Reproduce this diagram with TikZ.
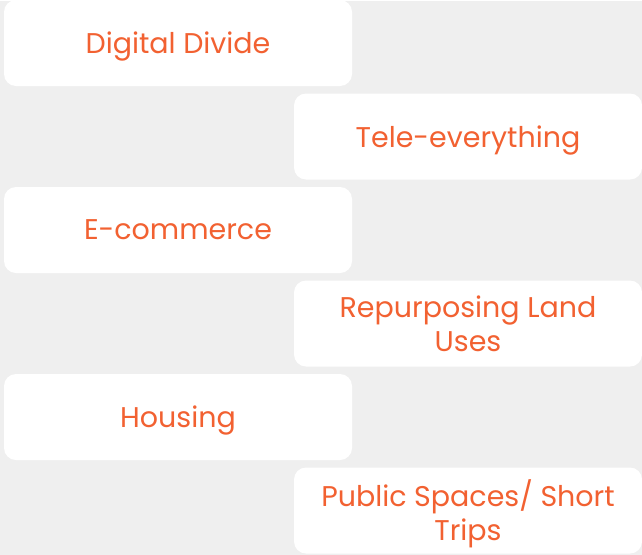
\documentclass[tikz,border=0pt]{standalone}
\usepackage{fontspec}
\setmainfont{Poppins}
\usepackage{tikz}
\usepackage{xcolor}
\definecolor{paper}{HTML}{EFEFEF}
\definecolor{ember}{HTML}{F26131}

\begin{document}
\begin{tikzpicture}[x=1pt,y=-1pt,
  card/.style={fill=white,rounded corners=12pt,minimum width=348pt,minimum height=86pt,
    inner sep=0pt,text=ember,align=center,text depth=0pt,font=\fontsize{28.5}{34}\selectfont}]
\fill[paper] (0,0) rectangle (642,554);
\node[card] (digital) at (178,42.5) {Digital Divide};
\node[card] (tele) at (468,136) {Tele-everything};
\node[card] (ecom) at (178,229.5) {E-commerce};
\node[card] (landuse) at (468,323) {Repurposing Land\\Uses};
\node[card] (housing) at (178,416.5) {Housing};
\node[card] (public) at (468,510) {Public Spaces/ Short\\Trips};
\end{tikzpicture}
\end{document}
